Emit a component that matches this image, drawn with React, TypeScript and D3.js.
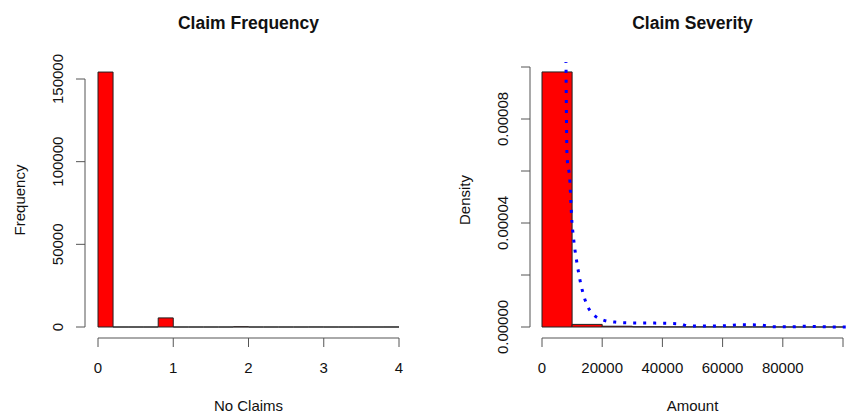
import React, { useEffect, useRef } from 'react';
import * as d3 from 'd3';

// Claim frequency histogram (bins of 0.2 from 0 to 4)
const freqBinWidth = 0.2;
const freqCounts = [154200, 0, 0, 0, 5500, 0, 0, 0, 0, 150, 0, 0, 0, 0, 10, 0, 0, 0, 0, 1];
const freqXTicks = [0, 1, 2, 3, 4];
const freqYTicks = [0, 50000, 100000, 150000];

// Claim severity histogram (bins of 10000 from 0 to 100000), density scale
const sevBinWidth = 10000;
const sevDensity = [9.81e-5, 1.0e-6, 3e-7, 1e-7, 5e-8, 5e-8, 3e-8, 2e-8, 1e-8, 1e-8];
const sevXTicks = [0, 20000, 40000, 60000, 80000, 100000];
const sevXLabels = ['0', '20000', '40000', '60000', '80000', ''];
const sevYTicks = [0, 0.00002, 0.00004, 0.00006, 0.00008, 0.0001];
const sevYLabels = ['0.00000', '', '0.00004', '', '0.00008', ''];

// kernel density estimate
const densX = [7800, 7967, 8133, 8299, 9295, 9627, 9959, 10290, 10954, 11618, 12614, 13610, 14938,
  17261, 20249, 24232, 29212, 39170, 45809, 48465, 55768, 60747, 65726, 72365, 76349, 82324,
  87303, 90622, 95602, 100913];
const densY = [1.104e-4, 1.019e-4, 0.796e-4, 0.662e-4, 0.554e-4, 0.469e-4, 0.4e-4, 0.362e-4,
  0.296e-4, 0.246e-4, 0.181e-4, 0.131e-4, 0.085e-4, 0.046e-4, 0.027e-4, 0.019e-4, 0.016e-4,
  0.0146e-4, 0.012e-4, 0.0045e-4, 0.0038e-4, 0.0046e-4, 0.0088e-4, 0.0077e-4, 0.0012e-4,
  0.0005e-4, 0.0027e-4, 0.0019e-4, 0.0003e-4, 0.0002e-4];

const W = 846;
const H = 413;
const FONT = '"Liberation Sans", Arial, sans-serif';

export default function App() {
  const svgRef = useRef<SVGSVGElement>(null);

  useEffect(() => {
    if (!svgRef.current) return;
    const svg = d3.select(svgRef.current);
    svg.selectAll('*').remove();

    const axisColor = '#555';
    const tickLen = 9;

    const drawPanel = (opts: {
      x: d3.ScaleLinear<number, number>;
      y: d3.ScaleLinear<number, number>;
      bins: number[];
      binWidth: number;
      xTicks: number[];
      xLabels: string[];
      yTicks: number[];
      yLabels: string[];
      axisX: number;
      axisY: number;
      title: string;
      xTitle: string;
      yTitle: string;
    }) => {
      const { x, y, bins, binWidth } = opts;
      const g = svg.append('g');

      // bars as closed paths so empty bins still show their outline on the baseline
      g.selectAll('.bar')
        .data(bins)
        .enter().append('path')
        .attr('d', (d, i) => {
          const x0 = x(i * binWidth);
          const x1 = x((i + 1) * binWidth);
          return `M${x0},${y(0)}H${x1}V${y(d)}H${x0}Z`;
        })
        .attr('fill', 'red')
        .attr('stroke', '#222')
        .attr('stroke-width', 1);

      // x axis
      const xa = g.append('g').attr('stroke', axisColor).attr('fill', 'none');
      const xt = opts.xTicks;
      xa.append('line')
        .attr('x1', x(xt[0])).attr('x2', x(xt[xt.length - 1]))
        .attr('y1', opts.axisY).attr('y2', opts.axisY);
      xa.selectAll('.xt').data(xt).enter().append('line')
        .attr('x1', d => x(d)).attr('x2', d => x(d))
        .attr('y1', opts.axisY).attr('y2', opts.axisY + tickLen);
      g.selectAll('.xl').data(xt).enter().append('text')
        .attr('x', d => x(d))
        .attr('y', 373)
        .attr('text-anchor', 'middle')
        .style('font-family', FONT)
        .style('font-size', '15px')
        .attr('fill', '#111')
        .text((d, i) => opts.xLabels[i]);

      // y axis
      const yt = opts.yTicks;
      const ya = g.append('g').attr('stroke', axisColor).attr('fill', 'none');
      ya.append('line')
        .attr('x1', opts.axisX).attr('x2', opts.axisX)
        .attr('y1', y(yt[0])).attr('y2', y(yt[yt.length - 1]));
      ya.selectAll('.yt').data(yt).enter().append('line')
        .attr('x1', opts.axisX - tickLen).attr('x2', opts.axisX)
        .attr('y1', d => y(d)).attr('y2', d => y(d));
      g.selectAll('.yl').data(yt).enter().append('text')
        .attr('transform', d => `translate(${opts.axisX - 22},${y(d)}) rotate(-90)`)
        .attr('text-anchor', 'middle')
        .style('font-family', FONT)
        .style('font-size', '15px')
        .attr('fill', '#111')
        .text((d, i) => opts.yLabels[i]);

      // titles
      const cx = (x(xt[0]) + x(xt[xt.length - 1])) / 2;
      g.append('text')
        .attr('x', cx).attr('y', 29)
        .attr('text-anchor', 'middle')
        .style('font-family', FONT)
        .style('font-size', '17.5px')
        .style('font-weight', 'bold')
        .attr('fill', '#111')
        .text(opts.title);
      g.append('text')
        .attr('x', cx).attr('y', 411)
        .attr('text-anchor', 'middle')
        .style('font-family', FONT)
        .style('font-size', '15px')
        .attr('fill', '#111')
        .text(opts.xTitle);
      g.append('text')
        .attr('transform', `translate(${opts.axisX - 60},200) rotate(-90)`)
        .attr('text-anchor', 'middle')
        .style('font-family', FONT)
        .style('font-size', '15px')
        .attr('fill', '#111')
        .text(opts.yTitle);
    };

    // left panel
    const xF = d3.scaleLinear().domain([0, 4]).range([98, 399]);
    const yF = d3.scaleLinear().domain([0, 150000]).range([327, 79]);
    drawPanel({
      x: xF, y: yF, bins: freqCounts, binWidth: freqBinWidth,
      xTicks: freqXTicks, xLabels: freqXTicks.map(String),
      yTicks: freqYTicks, yLabels: freqYTicks.map(String),
      axisX: 85, axisY: 338,
      title: 'Claim Frequency', xTitle: 'No Claims', yTitle: 'Frequency'
    });

    // right panel
    const xS = d3.scaleLinear().domain([0, 100000]).range([542, 843]);
    const yS = d3.scaleLinear().domain([0, 0.0001]).range([327, 67]);
    drawPanel({
      x: xS, y: yS, bins: sevDensity, binWidth: sevBinWidth,
      xTicks: sevXTicks, xLabels: sevXLabels,
      yTicks: sevYTicks, yLabels: sevYLabels,
      axisX: 530, axisY: 338,
      title: 'Claim Severity', xTitle: 'Amount', yTitle: 'Density'
    });

    // density line, clipped to plot region
    svg.append('clipPath').attr('id', 'sevClip')
      .append('rect').attr('x', 530).attr('y', 62).attr('width', 330).attr('height', 276);

    const pts = densX.map((v, i) => [v, densY[i]] as [number, number]);
    const line = d3.line<[number, number]>()
      .x(d => xS(d[0]))
      .y(d => yS(d[1]))
      .curve(d3.curveMonotoneX);
    svg.append('path')
      .datum(pts)
      .attr('clip-path', 'url(#sevClip)')
      .attr('fill', 'none')
      .attr('stroke', 'blue')
      .attr('stroke-width', 3)
      .attr('stroke-dasharray', '3 7')
      .attr('d', line);
  }, []);

  return (
    <svg
      ref={svgRef}
      width={W}
      height={H}
      style={{ position: 'absolute', left: 0, top: 0, background: 'white' }}
    />
  );
}
